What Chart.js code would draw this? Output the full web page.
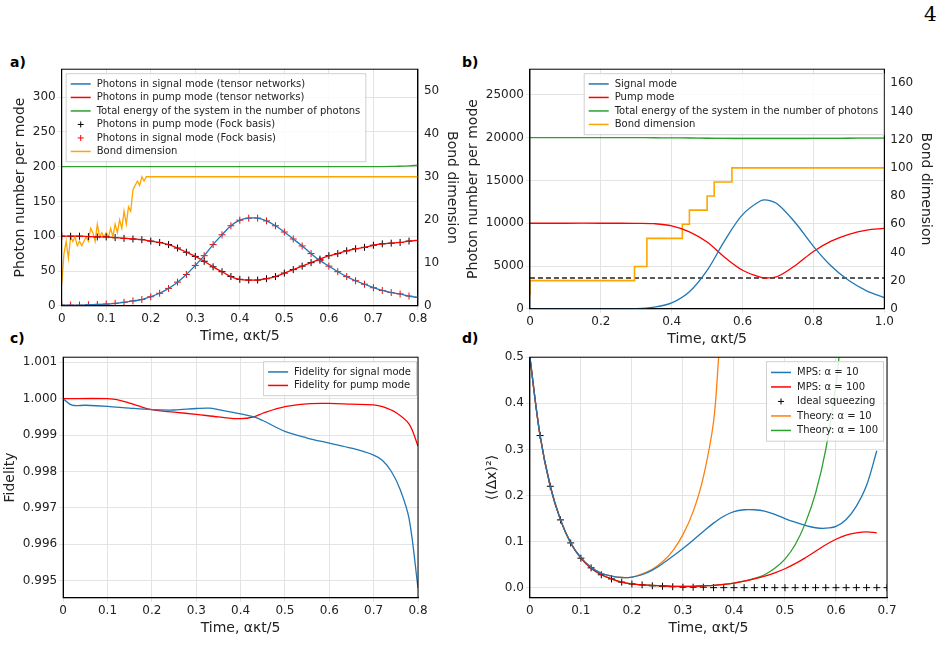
<!DOCTYPE html>
<html><head><meta charset="utf-8">
<script src="https://cdn.jsdelivr.net/npm/chart.js@4"></script>
<style>
body{margin:0;background:#fff;width:942px;height:664px;position:relative;overflow:hidden;font-family:"DejaVu Sans",sans-serif}
.pl{position:absolute;font-weight:bold;font-size:14px}
.c{position:absolute}
</style></head><body>
<div class="pl" style="left:10px;top:54px">a)</div>
<div class="pl" style="left:462px;top:54px">b)</div>
<div class="pl" style="left:10px;top:330px">c)</div>
<div class="pl" style="left:462px;top:330px">d)</div>
<div style="position:absolute;left:924px;top:2px;font-family:'DejaVu Serif',serif;font-size:20px">4</div>
<div class="c" style="left:0;top:60px;width:468px;height:285px"><canvas id="ca"></canvas></div>
<div class="c" style="left:463px;top:60px;width:479px;height:288px"><canvas id="cb"></canvas></div>
<div class="c" style="left:0;top:348px;width:466px;height:289px"><canvas id="cc"></canvas></div>
<div class="c" style="left:466px;top:348px;width:476px;height:289px"><canvas id="cd"></canvas></div>
<script>
// ---- panel a
const tA = [0,0.02,0.04,0.06,0.08,0.1,0.12,0.14,0.16,0.18,0.2,0.22,0.24,0.26,0.28,0.3,0.32,0.34,0.36,0.38,0.4,0.42,0.44,0.46,0.48,0.5,0.52,0.54,0.56,0.58,0.6,0.62,0.64,0.66,0.68,0.7,0.72,0.74,0.76,0.78,0.8];
const signalA = [1,1,1,1.5,2,2.5,3.5,5,7,9,13,18,25,34,45,58,72,88,102,115,123,126,126,122,115,106,96,86,75,65,57,49,42,36,31,26,22,19,17,14,12];
const pumpA = [100,100,100,99.5,99,99,98,97,96,95,93,91,88,83,77,71,64,56,49,42,38,37,37,39,42,47,52,57,62,67,72,75,79,82,84,87,89,90,91,93,94];
const tTotalA = [0,0.2,0.4,0.6,0.7,0.75,0.78,0.8];
const totalA = [200,200,200,200,200,200.5,201,202];
const tBondA = [0,0.005,0.01,0.015,0.02,0.025,0.03,0.035,0.04,0.045,0.05,0.055,0.06,0.065,0.07,0.075,0.08,0.085,0.09,0.095,0.1,0.105,0.11,0.115,0.12,0.125,0.13,0.135,0.14,0.145,0.15,0.155,0.16,0.165,0.17,0.175,0.18,0.185,0.19,0.8];
const bondA = [5,12,15,11,16,15,16,14,15,14,15,16,15,18,17,15,19,16,17,16,17,16,18,16,19,17,20,18,22,19,23,22,27,28,29,28,30,29,30,30];
const ticksAy = [0,50,100,150,200,250,300];
const ticksAy1 = [0,10,20,30,40,50];
// ---- panel b
const tB = [0,0.1,0.2,0.3,0.35,0.4,0.45,0.5,0.55,0.6,0.65,0.67,0.7,0.75,0.8,0.85,0.9,0.95,1];
const signalB = [0,0,0,30,200,700,2000,4500,8000,11000,12600,12700,12200,10000,7300,5000,3300,2100,1300];
const pumpB = [10000,10000,10000,9990,9950,9700,9000,7800,6000,4500,3700,3600,3800,5100,6700,7900,8700,9200,9400];
const totalB = [20000,20000,20000,20000,19990,19980,19960,19930,19910,19900,19900,19900,19900,19900,19910,19920,19930,19940,19950];
const tBondB = [0,0.295,0.33,0.43,0.45,0.5,0.52,0.57,0.63,1];
const bondB = [10,20,30,50,60,70,80,90,100,100];
const thresholdB = 3600;
const ticksBy = [0,5000,10000,15000,20000,25000];
const ticksBy1 = [0,20,40,60,80,100,120,140,160];
// ---- panel c
const tFs = [0,0.02,0.05,0.1,0.15,0.2,0.25,0.3,0.33,0.35,0.4,0.43,0.45,0.5,0.55,0.6,0.65,0.7,0.72,0.74,0.76,0.78,0.8];
const fidSignal = [1.0,0.99982,0.99982,0.99979,0.99974,0.9997,0.99969,0.99973,0.99974,0.9997,0.99958,0.9995,0.9994,0.9991,0.99892,0.99878,0.99864,0.99845,0.9983,0.998,0.9975,0.9967,0.9948];
const tFp = [0,0.1,0.13,0.15,0.17,0.2,0.25,0.3,0.35,0.4,0.43,0.45,0.5,0.55,0.6,0.65,0.7,0.72,0.75,0.78,0.8];
const fidPump = [1.0,1.0,0.99995,0.99988,0.9998,0.9997,0.99963,0.99957,0.9995,0.99945,0.9995,0.9996,0.99978,0.99986,0.99987,0.99985,0.99983,0.99978,0.99962,0.9993,0.9987];
const ticksCy = [0.995,0.996,0.997,0.998,0.999,1.000,1.001];
// ---- panel d
const tD = [0,0.02,0.04,0.06,0.08,0.1,0.12,0.14,0.16,0.18,0.2,0.22,0.24,0.26,0.28,0.3,0.32,0.34,0.36,0.38,0.4,0.42,0.44,0.46,0.48,0.5,0.52,0.54,0.56,0.58,0.6,0.62,0.64,0.66,0.68];
const mps10 = [0.5,0.33,0.22,0.147,0.097,0.065,0.044,0.031,0.025,0.022,0.023,0.028,0.038,0.052,0.068,0.085,0.103,0.122,0.14,0.155,0.165,0.169,0.169,0.166,0.159,0.15,0.142,0.135,0.13,0.129,0.133,0.148,0.177,0.222,0.297];
const mps100 = [0.5,0.33,0.22,0.147,0.097,0.064,0.042,0.028,0.019,0.012,0.008,0.006,0.005,0.004,0.003,0.003,0.003,0.004,0.005,0.007,0.01,0.014,0.019,0.025,0.032,0.041,0.052,0.065,0.079,0.093,0.105,0.114,0.119,0.121,0.119];
const tIdeal = [0.02,0.04,0.06,0.08,0.1,0.12,0.14,0.16,0.18,0.2,0.22,0.24,0.26,0.28,0.3,0.32,0.34,0.36,0.38,0.4,0.42,0.44,0.46,0.48,0.5,0.52,0.54,0.56,0.58,0.6,0.62,0.64,0.66,0.68,0.7];
const ideal = [0.33,0.22,0.147,0.097,0.064,0.043,0.028,0.019,0.012,0.008,0.006,0.004,0.003,0.002,0.001,0.001,0.001,0,0,0,0,0,0,0,0,0,0,0,0,0,0,0,0,0,0];
const tTh10 = [0,0.02,0.04,0.06,0.08,0.1,0.12,0.14,0.16,0.18,0.2,0.22,0.24,0.26,0.28,0.3,0.32,0.34,0.36,0.37,0.38];
const theory10 = [0.5,0.33,0.22,0.147,0.097,0.065,0.044,0.031,0.025,0.022,0.023,0.03,0.04,0.056,0.08,0.115,0.165,0.24,0.36,0.5,0.65];
const tTh100 = [0,0.02,0.04,0.06,0.08,0.1,0.12,0.14,0.16,0.18,0.2,0.22,0.24,0.26,0.28,0.3,0.32,0.34,0.36,0.38,0.4,0.42,0.44,0.46,0.48,0.5,0.52,0.54,0.56,0.58,0.6,0.61];
const theory100 = [0.5,0.33,0.22,0.147,0.097,0.064,0.042,0.028,0.019,0.012,0.008,0.006,0.005,0.004,0.003,0.003,0.003,0.004,0.005,0.007,0.01,0.014,0.02,0.028,0.042,0.062,0.093,0.14,0.205,0.3,0.44,0.55];
const ticksDy = [0,0.1,0.2,0.3,0.4,0.5];

const xy = (xs, ys) => xs.map((x, i) => ({x: x, y: ys[i]}));
const BLUE = '#1f77b4', RED = '#ff0000', GREEN = '#2ca02c', ORANGE = '#ffa500', TORANGE = '#ff7f0e';
Chart.defaults.font.family = 'DejaVu Sans';
Chart.defaults.color = '#222';
Chart.defaults.animation = false;
Chart.defaults.maintainAspectRatio = false;

// frame around the plot + matplotlib-like legend inside the plot area
const frame = {
  id: 'frame',
  afterDraw(chart, args, opts) {
    const {ctx, chartArea: a} = chart;
    ctx.save();
    ctx.strokeStyle = '#000'; ctx.lineWidth = 1;
    ctx.strokeRect(a.left, a.top, a.right - a.left, a.bottom - a.top);
    if (opts.legend) {
      const L = opts.legend;
      const items = chart.data.datasets.filter(d => d.label !== 'threshold');
      const fs = L.size || 10, rowH = L.rowH || 13.5;
      ctx.font = fs + 'px DejaVu Sans';
      const w = Math.max(...items.map(d => ctx.measureText(d.label).width)) + 36;
      const h = items.length * rowH + 7;
      const x = L.align === 'left' ? a.left + (L.dx || 6) : a.right - w - (L.dx || 6);
      const y = a.top + (L.dy || 4);
      ctx.fillStyle = 'rgba(255,255,255,0.85)';
      ctx.fillRect(x, y, w, h);
      ctx.strokeStyle = '#d0d0d0';
      ctx.strokeRect(x + 0.5, y + 0.5, w, h);
      items.forEach((d, i) => {
        const cy = y + 4 + rowH * i + rowH / 2;
        ctx.strokeStyle = d.borderColor; ctx.lineWidth = 1.5;
        ctx.beginPath();
        if (d.showLine === false) {
          ctx.lineWidth = 1;
          ctx.moveTo(x + 15, cy - 3); ctx.lineTo(x + 15, cy + 3);
          ctx.moveTo(x + 12, cy); ctx.lineTo(x + 18, cy);
        } else {
          ctx.moveTo(x + 5, cy); ctx.lineTo(x + 25, cy);
        }
        ctx.stroke();
        ctx.fillStyle = '#222'; ctx.textBaseline = 'middle';
        ctx.fillText(d.label, x + 31, cy);
      });
    }
    ctx.restore();
  }
};
function line(label, data, color, extra) {
  return Object.assign({label, data, borderColor: color, backgroundColor: color, borderWidth: 1.3, pointRadius: 0, tension: 0.35}, extra || {});
}
function marks(label, data, color) {
  return {label, data, showLine: false, pointStyle: 'cross', pointRadius: 3.5, borderColor: color, backgroundColor: color, borderWidth: 1};
}
function xAxis(min, max, step) {
  return {type: 'linear', min, max, ticks: {stepSize: step, font: {size: 12}, color: '#222', padding: 2},
    title: {display: true, text: 'Time, ακt/5', font: {size: 14}, padding: 0}, grid: {color: '#e3e3e3', tickLength: 4}, border: {color: '#000'}};
}
function yAxis(min, max, list, title, pos, digits) {
  return {type: 'linear', position: pos || 'left', min, max,
    afterBuildTicks: s => { s.ticks = list.map(v => ({value: v})); },
    ticks: {font: {size: 12}, color: '#222', padding: 2, callback: v => digits === undefined ? String(v) : v.toFixed(digits)},
    title: {display: !!title, text: title, font: {size: 14}, padding: 2}, grid: {color: '#e3e3e3', display: pos !== 'right', tickLength: 4}, border: {color: '#000'}};
}
const noLegend = {legend: {display: false}, tooltip: {enabled: false}};

new Chart(document.getElementById('ca'), {
  type: 'line',
  data: {datasets: [
    line('Photons in signal mode (tensor networks)', xy(tA, signalA), BLUE),
    line('Photons in pump mode (tensor networks)', xy(tA, pumpA), RED),
    line('Total energy of the system in the number of photons', xy(tTotalA, totalA), GREEN),
    marks('Photons in pump mode (Fock basis)', xy(tA, pumpA), '#000'),
    marks('Photons in signal mode (Fock basis)', xy(tA, signalA), RED),
    line('Bond dimension', xy(tBondA, bondA), ORANGE, {yAxisID: 'y1', tension: 0})
  ]},
  options: {
    layout: {padding: {top: 9, right: 6, left: 10}},
    plugins: Object.assign({frame: {legend: {align: 'left', size: 10, rowH: 13.5, dx: 4}}}, noLegend),
    scales: {x: xAxis(0, 0.8, 0.1), y: yAxis(0, 340, ticksAy, 'Photon number per mode'), y1: yAxis(0, 55, ticksAy1, 'Bond dimension', 'right')}
  },
  plugins: [frame]
});

new Chart(document.getElementById('cb'), {
  type: 'line',
  data: {datasets: [
    line('Signal mode', xy(tB, signalB), BLUE),
    line('Pump mode', xy(tB, pumpB), RED),
    line('Total energy of the system in the number of photons', xy(tB, totalB), GREEN),
    line('Bond dimension', xy(tBondB, bondB), ORANGE, {yAxisID: 'y1', tension: 0, stepped: 'after', borderWidth: 1.6}),
    line('threshold', xy([0, 1], [thresholdB, thresholdB]), '#222', {borderDash: [5, 3], tension: 0})
  ]},
  options: {
    layout: {padding: {top: 9, right: 6}},
    plugins: Object.assign({frame: {legend: {align: 'right', size: 10, rowH: 13.5, dx: 1}}}, noLegend),
    scales: {x: xAxis(0, 1, 0.2), y: yAxis(0, 28000, ticksBy, 'Photon number per mode'), y1: yAxis(0, 170, ticksBy1, 'Bond dimension', 'right')}
  },
  plugins: [frame]
});

new Chart(document.getElementById('cc'), {
  type: 'line',
  data: {datasets: [
    line('Fidelity for signal mode', xy(tFs, fidSignal), BLUE),
    line('Fidelity for pump mode', xy(tFp, fidPump), RED)
  ]},
  options: {
    layout: {padding: {top: 9, right: 48}},
    plugins: Object.assign({frame: {legend: {align: 'right', size: 10, rowH: 13.5, dx: 2}}}, noLegend),
    scales: {x: xAxis(0, 0.8, 0.1), y: yAxis(0.99453, 1.00114, ticksCy, 'Fidelity', 'left', 3)}
  },
  plugins: [frame]
});

new Chart(document.getElementById('cd'), {
  type: 'line',
  data: {datasets: [
    line('MPS: α = 10', xy(tD, mps10), BLUE),
    line('MPS: α = 100', xy(tD, mps100), RED),
    marks('Ideal squeezing', xy(tIdeal, ideal), '#000'),
    line('Theory: α = 10', xy(tTh10, theory10), TORANGE),
    line('Theory: α = 100', xy(tTh100, theory100), GREEN)
  ]},
  options: {
    layout: {padding: {top: 9, right: 55, left: 16}},
    plugins: Object.assign({frame: {legend: {align: 'right', size: 10, rowH: 14.5, dx: 4}}}, noLegend),
    scales: {x: xAxis(0, 0.7, 0.1), y: yAxis(-0.022, 0.5, ticksDy, '⟨(Δx)²⟩', 'left', 1)}
  },
  plugins: [frame]
});
</script>
</body></html>
